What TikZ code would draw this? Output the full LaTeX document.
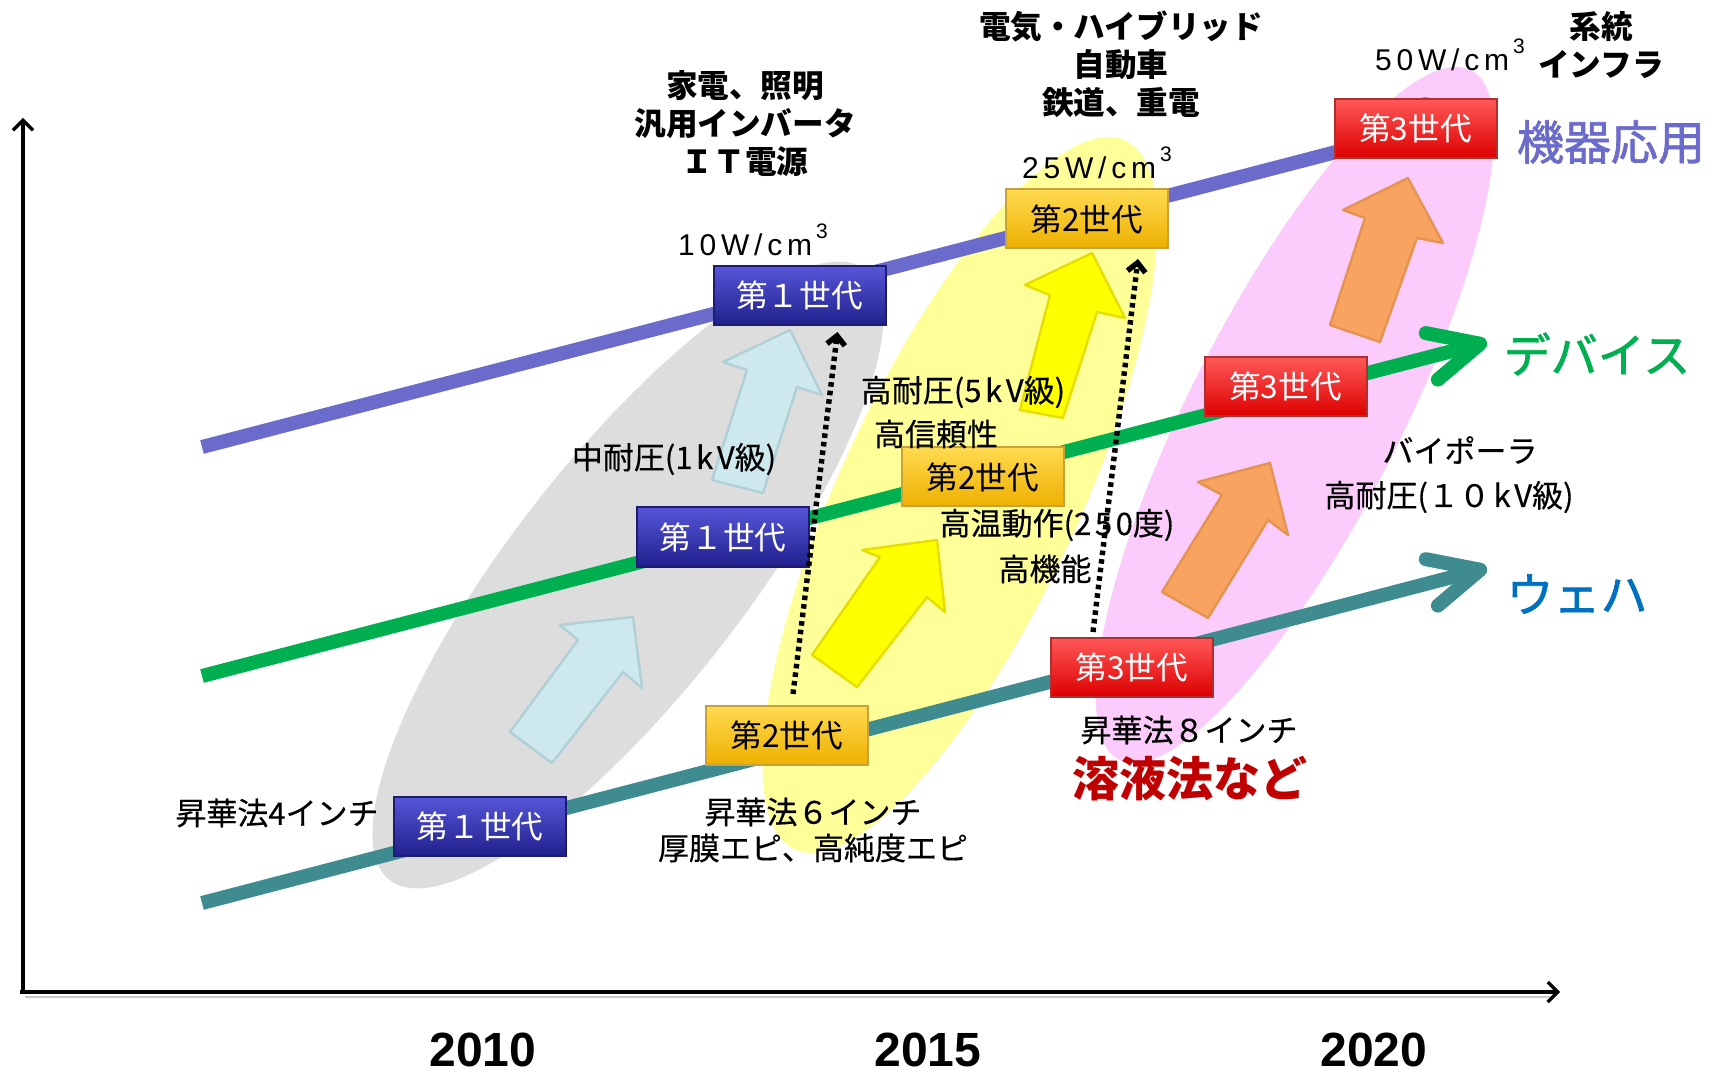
\documentclass[tikz,border=0pt]{standalone}
\usepackage{fontspec}
\setmainfont{Noto Sans CJK JP}
\newfontfamily\arialf{Liberation Sans}
\usetikzlibrary{arrows.meta}
\definecolor{cPurple}{HTML}{6B6BCB}
\definecolor{cGreen}{HTML}{00B050}
\definecolor{cTeal}{HTML}{3E8C90}
\definecolor{cWafer}{HTML}{0070C0}
\definecolor{cRedText}{HTML}{C00000}
\definecolor{cGrayEl}{HTML}{DDDDDD}
\definecolor{cYelEl}{HTML}{FFFF99}
\definecolor{cPinkEl}{HTML}{FBCBFB}
\definecolor{cCyan}{HTML}{CDE9EE}
\definecolor{cCyanD}{HTML}{B0D0D6}
\definecolor{cYel}{HTML}{FFFF00}
\definecolor{cYelD}{HTML}{E6DE00}
\definecolor{cOra}{HTML}{F8A460}
\definecolor{cOraD}{HTML}{E39450}
\definecolor{bBlue}{HTML}{2C2CA6}
\definecolor{bBlueT}{HTML}{5656D8}
\definecolor{bBlueB}{HTML}{20208C}
\definecolor{bBlueE}{HTML}{1C1C70}
\definecolor{bYel}{HTML}{FFC000}
\definecolor{bYelT}{HTML}{FFDA50}
\definecolor{bYelB}{HTML}{EDB000}
\definecolor{bYelE}{HTML}{C9A13A}
\definecolor{bRed}{HTML}{FF0000}
\definecolor{bRedT}{HTML}{FF5858}
\definecolor{bRedB}{HTML}{DD0000}
\definecolor{bRedE}{HTML}{B03030}
\newcommand{\ls}{\hspace{1.8pt}}
\newcommand{\wcm}[2]{#1\hspace{2.4pt}#2\hspace{2.4pt}W\hspace{2.4pt}/\hspace{2.4pt}c\hspace{2.4pt}m\hspace{2pt}\raisebox{0.55em}{\fontsize{10.5}{10.5}\selectfont 3}}
\tikzset{
  genbox/.style={minimum width=81pt, minimum height=29.5pt, inner sep=0pt,
    font=\fontsize{15.8}{18}\selectfont, line width=1pt},
  gen1/.style={genbox, minimum width=86pt, top color=bBlueT, middle color=bBlue, bottom color=bBlueB, draw=bBlueE, text=white},
  gen2/.style={genbox, top color=bYelT, middle color=bYel, bottom color=bYelB, draw=bYelE, text=black},
  gen3/.style={genbox, top color=bRedT, middle color=bRed, bottom color=bRedB, draw=bRedE, text=white},
  lbl/.style={font=\fontsize{15.5}{18}\selectfont\addfontfeature{FakeBold=0.4}, inner sep=0pt, align=center},
  head/.style={font=\fontsize{15.8}{19}\selectfont\bfseries, inner sep=0pt, align=center},
  wlbl/.style={font=\arialf\fontsize{15}{17}\selectfont, inner sep=0pt},
  cat/.style={font=\fontsize{23.5}{28}\selectfont\addfontfeature{FakeBold=1.5}, inner sep=0pt},
  yr/.style={font=\arialf\bfseries\fontsize{24}{28}\selectfont, inner sep=0pt},
  trend/.style={line width=7pt, -{Straight Barb[length=25pt,width=24pt,round]}},
  axis/.style={line width=1.6pt, black, -{Straight Barb[length=5pt,width=10pt]}},
  dotarrow/.style={line width=2.7pt, black, dash pattern=on 2.3pt off 2pt, -{Straight Barb[length=4.5pt,width=9pt]}},
  blk/.style={line width=1.2pt, line join=round}
}
\begin{document}
\begin{tikzpicture}[x=0.5pt,y=-0.5pt]
\useasboundingbox (0,0) rectangle (1710,1075);
\fill[white] (0,0) rectangle (1710,1075);
% background ellipses
\fill[cGrayEl, rotate around={52:(628,575)}] (628,575) ellipse [x radius=387, y radius=117];
\fill[cYelEl, rotate around={65:(960,495)}] (960,495) ellipse [x radius=391, y radius=119];
\fill[cPinkEl, rotate around={63:(1295,415)}] (1295,415) ellipse [x radius=387, y radius=105];
% axes
\coordinate (o) at (23,992);
\coordinate (yt) at (23,118);
\coordinate (xt) at (1560,992);
\draw[gray!45, line width=1.2pt] (25,997) -- (1550,997);
\draw[axis] (o) -- (yt);
\draw[axis] (20,992) -- (xt);
% trend lines
\coordinate (pS) at (202,447); \coordinate (pE) at (1486,113);
\coordinate (gS) at (202,676); \coordinate (gE) at (1487,342);
\coordinate (tS) at (202,903); \coordinate (tE) at (1487,568);
\draw[trend, cPurple] (pS) -- (pE);
\draw[trend, cGreen] (gS) -- (gE);
\draw[trend, cTeal] (tS) -- (tE);
% block arrows
\filldraw[blk, fill=cCyan, draw=cCyanD] (510,732) -- (578,640) -- (560,625) -- (633,617) -- (642,688) -- (623,672) -- (552,763) -- cycle;
\filldraw[blk, fill=cCyan, draw=cCyanD] (712,480) -- (747,370) -- (723,362) -- (790,330) -- (822,395) -- (797,387) -- (763,493) -- cycle;
\filldraw[blk, fill=cYel, draw=cYelD] (812,655) -- (880,557) -- (862,550) -- (937,540) -- (945,612) -- (927,597) -- (857,687) -- cycle;
\filldraw[blk, fill=cYel, draw=cYelD] (1020,410) -- (1050,295) -- (1025,285) -- (1092,253) -- (1125,318) -- (1097,312) -- (1063,418) -- cycle;
\filldraw[blk, fill=cOra, draw=cOraD] (1162,592) -- (1222,495) -- (1198,482) -- (1270,463) -- (1288,535) -- (1268,520) -- (1208,618) -- cycle;
\filldraw[blk, fill=cOra, draw=cOraD] (1330,325) -- (1365,218) -- (1343,210) -- (1408,178) -- (1443,243) -- (1417,238) -- (1380,342) -- cycle;
% generation boxes
\node[gen1] (b1) at (480,826.5) {第１世代};
\node[gen1] (b2) at (723,537) {第１世代};
\node[gen1] (b3) at (799.5,295.5) {第１世代};
\node[gen2] (y1) at (787,735.5) {第2世代};
\node[gen2] (y2) at (983,477) {第2世代};
\node[gen2] (y3) at (1087,219) {第2世代};
\node[gen3] (r1) at (1132,667) {第3世代};
\node[gen3] (r2) at (1285.5,386.5) {第3世代};
\node[gen3] (r3) at (1415.5,128.5) {第3世代};
% headings
\node[head] (hA) at (745,124) {家電、照明\\汎用インバータ\\ＩＴ電源};
\node[head] (hB) at (1121,64) {電気・ハイブリッド\\自動車\\鉄道、重電};
\node[head] (hC) at (1601,45) {系統\\インフラ};
\node[wlbl] (w1) at (753,240) {\wcm{1}{0}};
\node[wlbl] (w2) at (1097,163) {\wcm{2}{5}};
\node[wlbl] (w3) at (1450,55) {\wcm{5}{0}};
% category labels
\node[cat, text=cPurple] (cA) at (1611,142) {機器応用};
\node[cat, text=cGreen] (cB) at (1597,354) {デバイス};
\node[cat, text=cWafer] (cC) at (1577,594) {ウェハ};
% feature labels
\node[lbl] (l1) at (674,459) {中耐圧(1\ls k\ls V級)};
\node[lbl] (l2) at (963,392) {高耐圧(5\ls k\ls V級)};
\node[lbl] (l3) at (936,434) {高信頼性};
\node[lbl] (l4) at (1057,525) {高温動作(2\ls 5\ls 0度)};
\node[lbl] (l5) at (1045,569) {高機能};
\node[lbl] (l6) at (1460,450) {バイポーラ};
\node[lbl] (l7) at (1449,497) {高耐圧(１０\ls k\ls V級)};
\node[lbl] (l8) at (1189,730) {昇華法８インチ};
\node[inner sep=0pt, font=\fontsize{23.5}{28}\selectfont\bfseries, text=cRedText] (l9) at (1190,779) {溶液法など};
\node[lbl] (l10) at (277,813) {昇華法4インチ};
\node[lbl] (l11) at (813,830) {昇華法６インチ\\厚膜エピ、高純度エピ};
% years
\node[yr] (yA) at (483,1050) {2010};
\node[yr] (yB) at (928,1050) {2015};
\node[yr] (yC) at (1374,1050) {2020};
% dotted arrows
\draw[dotarrow] ([xshift=3pt,yshift=5.5pt]y1.north) -- ([xshift=19pt,yshift=-3pt]b3.south);
\draw[dotarrow] ([xshift=-19.5pt,yshift=2.25pt]r1.north) -- ([xshift=25.5pt,yshift=-4.75pt]y3.south);
\end{tikzpicture}
\end{document}
